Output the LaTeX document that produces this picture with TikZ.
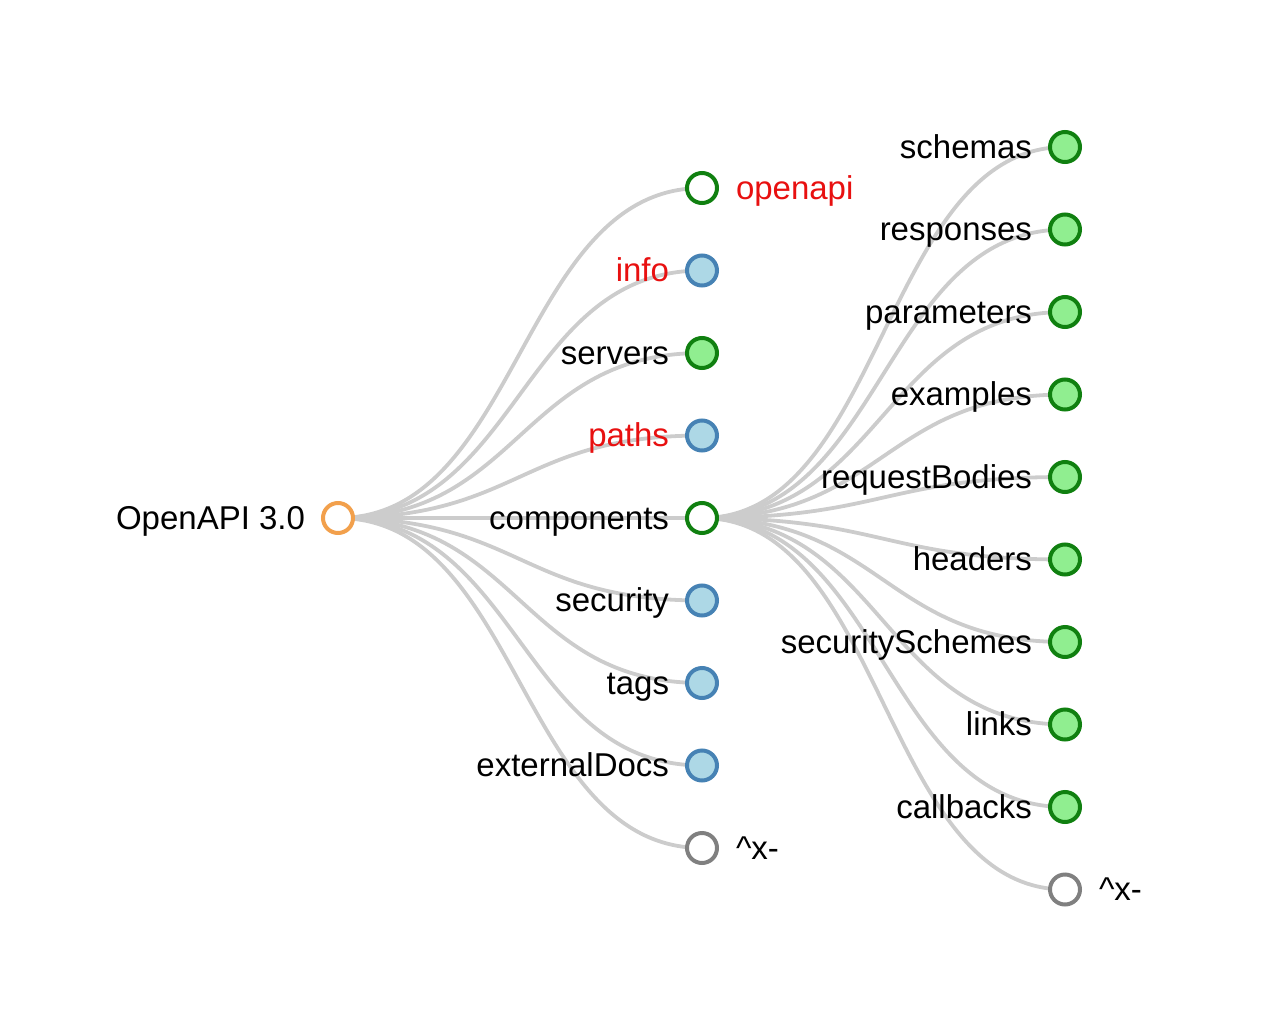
\documentclass[tikz,border=0pt]{standalone}
\usepackage{fontspec}
\setmainfont{Liberation Sans}
\usetikzlibrary{backgrounds}

\definecolor{linkgray}{RGB}{204,204,204}
\definecolor{rootorange}{RGB}{242,160,76}
\definecolor{dkgreen}{RGB}{16,128,16}
\definecolor{ltgreen}{RGB}{144,238,144}
\definecolor{steel}{RGB}{70,130,180}
\definecolor{ltblue}{RGB}{173,216,230}
\definecolor{ringgray}{RGB}{128,128,128}
\definecolor{apired}{RGB}{232,16,16}

\begin{document}
\begin{tikzpicture}[x=1pt, y=-1pt, line width=4pt]
	\tikzstyle{ring} = [circle, draw, fill=white, minimum size=30pt, inner sep=0pt]
	\tikzstyle{rootring} = [ring, draw=rootorange]
	\tikzstyle{openring} = [ring, draw=dkgreen]
	\tikzstyle{grayring} = [ring, draw=ringgray]
	\tikzstyle{greendot} = [ring, draw=dkgreen, fill=ltgreen]
	\tikzstyle{bluedot} = [ring, draw=steel, fill=ltblue]
	\tikzstyle{lbl} = [inner sep=0pt, outer sep=0pt, text height=25pt, text depth=3pt, font=\fontsize{33}{40}\selectfont]
	\tikzstyle{lblleft} = [lbl, anchor=east, xshift=-33pt]
	\tikzstyle{lblright} = [lbl, anchor=west, xshift=34pt]
	\tikzstyle{link} = [draw=linkgray, line width=3.8pt]

	\useasboundingbox (0,0) rectangle (1280,1009);

	\node[rootring] (root) at (338, 518) {};
	\node[lblleft] (t-root) at (root) {OpenAPI 3.0};

	\foreach \index/\txt/\kind/\side/\col in {1/openapi/openring/lblright/apired, 2/info/bluedot/lblleft/apired, 3/servers/greendot/lblleft/black, 4/paths/bluedot/lblleft/apired, 5/components/openring/lblleft/black, 6/security/bluedot/lblleft/black, 7/tags/bluedot/lblleft/black, 8/externalDocs/bluedot/lblleft/black, 9/\textasciicircum x-/grayring/lblright/black} {
		\node[\kind] (c-\index) at (702, {105.5 + 82.5*\index}) {};
		\node[\side, text=\col] (t-\index) at (c-\index) {\txt};
	}

	\foreach \index/\txt/\kind/\side in {1/schemas/greendot/lblleft, 2/responses/greendot/lblleft, 3/parameters/greendot/lblleft, 4/examples/greendot/lblleft, 5/requestBodies/greendot/lblleft, 6/headers/greendot/lblleft, 7/securitySchemes/greendot/lblleft, 8/links/greendot/lblleft, 9/callbacks/greendot/lblleft, 10/\textasciicircum x-/grayring/lblright} {
		\node[\kind] (k-\index) at (1065, {64.5 + 82.5*\index}) {};
		\node[\side] (u-\index) at (k-\index) {\txt};
	}

	\begin{scope}[on background layer]
		\foreach \index in {1,...,9}
			\draw[link] (root.center) to[out=0, in=180, distance=182pt] (c-\index.center);
		\foreach \index in {1,...,10}
			\draw[link] (c-5.center) to[out=0, in=180, distance=181.5pt] (k-\index.center);
	\end{scope}
\end{tikzpicture}
\end{document}
